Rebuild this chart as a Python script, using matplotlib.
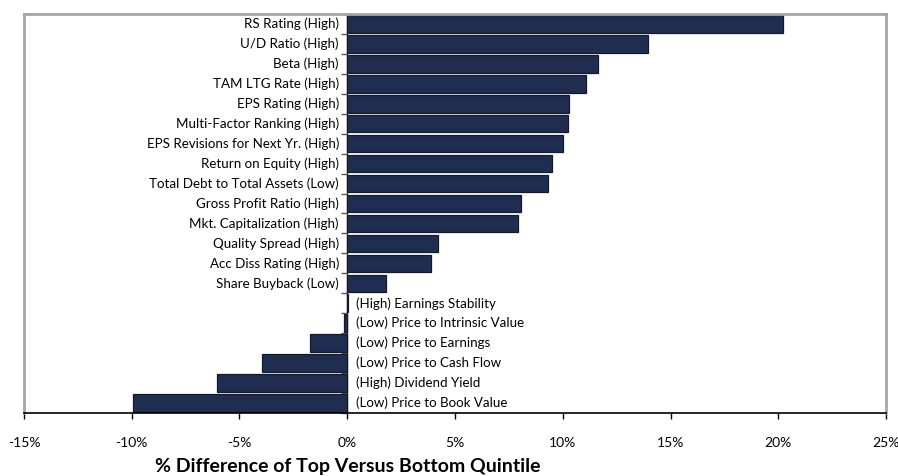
import matplotlib.pyplot as plt
from matplotlib.ticker import FuncFormatter

# factors, top to bottom
labels = [
    'RS Rating (High)', 'U/D Ratio (High)', 'Beta (High)', 'TAM LTG Rate (High)',
    'EPS Rating (High)', 'Multi-Factor Ranking (High)',
    'EPS Revisions for Next Yr. (High)', 'Return on Equity (High)',
    'Total Debt to Total Assets (Low)', 'Gross Profit Ratio (High)',
    'Mkt. Capitalization (High)', 'Quality Spread (High)',
    'Acc Diss Rating (High)', 'Share Buyback (Low)',
    '(High) Earnings Stability', '(Low) Price to Intrinsic Value',
    '(Low) Price to Earnings', '(Low) Price to Cash Flow',
    '(High) Dividend Yield', '(Low) Price to Book Value',
]
values = [20.2, 13.95, 11.65, 11.1, 10.3, 10.25, 10.0, 9.5, 9.3, 8.05,
          7.9, 4.2, 3.9, 1.8, 0.03, -0.15, -1.75, -3.95, -6.05, -9.95]
xticks = [-15, -10, -5, 0, 5, 10, 15, 20, 25]

plt.rcParams['font.family'] = ['Lato', 'DejaVu Sans']

fig = plt.figure(figsize=(8.98, 4.76), dpi=100)
ax = fig.add_axes([0.0267, 0.1324, 0.96, 0.8382])

pos = list(range(len(values)))
ax.barh(pos, values, height=0.88, color='#1f2d50', edgecolor='#141a2a',
        linewidth=0.9, zorder=2)

ax.set_xlim(-15, 25)
ax.set_ylim(len(values) - 0.5, -0.5)
ax.set_xticks(xticks)
ax.xaxis.set_major_formatter(FuncFormatter(lambda v, p: f'{v:.0f}%'))
ax.tick_params(axis='x', direction='out', length=4, width=1, color='black',
               labelsize=10, pad=13)
ax.set_yticks([])

for side in ['top', 'right', 'left']:
    ax.spines[side].set_color('#a6a6a6')
    ax.spines[side].set_linewidth(2)
ax.spines['bottom'].set_color('black')
ax.spines['bottom'].set_linewidth(1.2)

# category axis sitting on zero
sec = ax.secondary_yaxis(15 / 40)
sec.set_yticks([p - 0.5 for p in pos] + [len(values) - 0.5])
sec.set_yticklabels([])
sec.tick_params(axis='y', direction='out', length=4, width=1, color='#595959')
sec.spines['left'].set_color('#7a1f1f')
sec.spines['left'].set_linewidth(1)

# labels next to the zero line
for p, v, lab in zip(pos, values, labels):
    if v >= 0.5:
        ax.annotate(lab, (0, p), xytext=(-6, 0), textcoords='offset points',
                    ha='right', va='center', fontsize=9.6)
    else:
        ax.annotate(lab, (0, p), xytext=(6, 0), textcoords='offset points',
                    ha='left', va='center', fontsize=9.6)

ax.set_xlabel('% Difference of Top Versus Bottom Quintile', fontsize=14,
              fontweight='bold', va='center')
ax.xaxis.set_label_coords(0.375, -0.133)

fig.savefig('out.png', dpi=100)
